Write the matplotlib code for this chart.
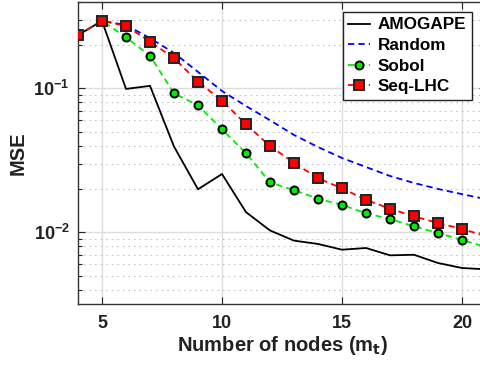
import numpy as np
import matplotlib.pyplot as plt
from matplotlib.ticker import LogLocator, NullFormatter

nodes = [4, 5, 6, 7, 8, 9, 10, 11, 12, 13, 14, 15, 16, 17, 18, 19, 20, 21]

amogape = [0.234, 0.294, 0.099, 0.104, 0.0394, 0.0199, 0.0254, 0.0138, 0.0103, 0.00875,
           0.0083, 0.00757, 0.00778, 0.00692, 0.00698, 0.00612, 0.00565, 0.00553]
random_ = [0.234, 0.294, 0.275, 0.223, 0.176, 0.130, 0.0958, 0.0753, 0.060, 0.0474,
           0.0391, 0.0328, 0.0284, 0.0246, 0.0220, 0.0200, 0.0184, 0.0170]
sobol = [0.234, 0.294, 0.226, 0.168, 0.0923, 0.0762, 0.0519, 0.0354, 0.0222, 0.0196,
         0.0171, 0.0155, 0.01355, 0.01236, 0.0110, 0.00989, 0.00885, 0.0079]
seqlhc = [0.234, 0.294, 0.271, 0.211, 0.162, 0.111, 0.082, 0.0562, 0.0397, 0.0304,
          0.0237, 0.0202, 0.0168, 0.0146, 0.0129, 0.0116, 0.01055, 0.0094]

plt.rcParams['font.family'] = ['Liberation Sans', 'DejaVu Sans']
plt.rcParams['font.weight'] = 'bold'
plt.rcParams['mathtext.default'] = 'bf'
plt.rcParams['lines.scale_dashes'] = False

fig = plt.figure(figsize=(4.8, 3.66), dpi=100)
ax = fig.add_axes([0.1625, 0.1686, 0.85, 0.827])

ax.plot(nodes, amogape, color='black', lw=1.3, label='AMOGAPE', zorder=3)
ax.plot(nodes, random_, color='blue', lw=1.3, dashes=(4.5, 3), label='Random', zorder=3)
ax.plot(nodes, sobol, color='#00ee00', lw=1.3, dashes=(4.5, 3), marker='o', ms=5.8,
        mfc='#00ee00', mec='black', mew=1.4, label='Sobol', zorder=4)
ax.plot(nodes, seqlhc, color='red', lw=1.3, dashes=(4.5, 3), marker='s', ms=6.8,
        mfc='red', mec='#222222', mew=1.4, label='Seq-LHC', zorder=5)

ax.set_yscale('log')
ax.set_xlim(4, 21)
ax.set_ylim(10 ** -2.5, 0.4)
ax.set_xticks([5, 10, 15, 20])
ax.yaxis.set_major_locator(LogLocator(base=10, numticks=10))
ax.yaxis.set_minor_locator(LogLocator(base=10, subs=np.arange(2, 10), numticks=20))
ax.yaxis.set_minor_formatter(NullFormatter())

ax.grid(True, which='major', color='#dddddd', lw=1.0, zorder=0)
ax.grid(True, which='minor', axis='y', color='#bbbbbb', lw=0.8, ls=(0, (1, 3)), zorder=0)

ax.tick_params(which='both', direction='in', top=True, right=True, labelsize=13,
               colors='#222222', width=0.8)
ax.tick_params(which='major', length=5)
ax.tick_params(which='minor', length=3)
ax.tick_params(axis='x', pad=8)
ax.tick_params(axis='y', pad=6)
for lab in ax.get_xticklabels() + ax.get_yticklabels():
    lab.set_fontweight('bold')
for s in ax.spines.values():
    s.set_color('#333333')
    s.set_linewidth(1.0)

ax.set_xlabel('Number of nodes (m$_\\mathbf{t}$)', fontsize=14.5, fontweight='bold',
              color='#222222', labelpad=1)
ax.set_ylabel('MSE', fontsize=14.5, fontweight='bold', color='#222222', labelpad=4)

leg = ax.legend(loc='upper right', bbox_to_anchor=(472 / 480, 1 - 11.5 / 366),
                bbox_transform=fig.transFigure, fontsize=12.3, handlelength=1.25,
                handletextpad=0.45, borderpad=0.35, labelspacing=0.33,
                borderaxespad=0, fancybox=False, framealpha=1, edgecolor='#222222')
leg.get_frame().set_linewidth(1.0)
for t in leg.get_texts():
    t.set_fontweight('bold')

fig.savefig('out.png', dpi=100)
